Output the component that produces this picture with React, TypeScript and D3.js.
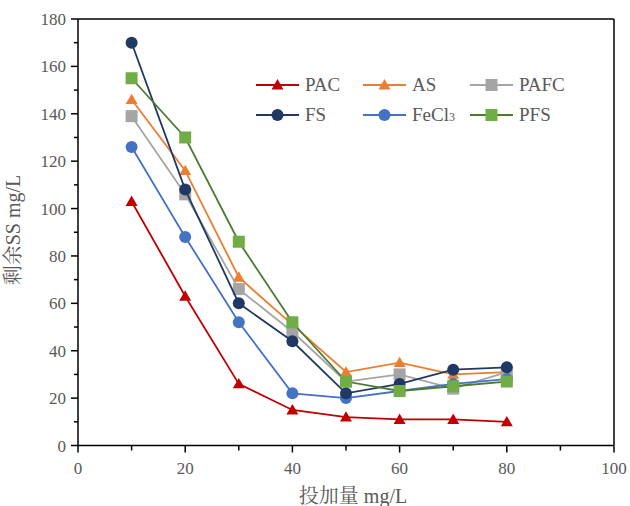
import React from "react";
import * as d3 from "d3";

const doses = [10, 20, 30, 40, 50, 60, 70, 80];
const pac = [103, 63, 26, 15, 12, 11, 11, 10];
const as = [146, 116, 71, 51, 31, 35, 30, 31];
const pafc = [139, 106, 66, 48, 27, 30, 24, 31];
const fs = [170, 108, 60, 44, 22, 26, 32, 33];
const fecl3 = [126, 88, 52, 22, 20, 23, 26, 28];
const pfs = [155, 130, 86, 52, 27, 23, 25, 27];

const xTicks = [0, 20, 40, 60, 80, 100];
const yTicks = [0, 20, 40, 60, 80, 100, 120, 140, 160, 180];

type Series = { name: string; values: number[]; line: string; fill: string; shape: "tri" | "sq" | "circ" };

const series: Series[] = [
  { name: "PAC", values: pac, line: "#C00000", fill: "#C00000", shape: "tri" },
  { name: "AS", values: as, line: "#ED7D31", fill: "#ED7D31", shape: "tri" },
  { name: "PAFC", values: pafc, line: "#A5A5A5", fill: "#A5A5A5", shape: "sq" },
  { name: "FeCl3", values: fecl3, line: "#4472C4", fill: "#4472C4", shape: "circ" },
  { name: "FS", values: fs, line: "#203864", fill: "#203864", shape: "circ" },
  { name: "PFS", values: pfs, line: "#4E7A2F", fill: "#70AD47", shape: "sq" },
];

const legendOrder = ["PAC", "AS", "PAFC", "FS", "FeCl3", "PFS"];

const left = 78, right = 614, top = 19, bottom = 445.5;
const FONT = "'Liberation Serif', 'Times New Roman', 'Noto Serif CJK SC', 'Noto Sans CJK SC', serif";
const TXT = "#595959";

function Marker({ s, x, y }: { s: Series; x: number; y: number }) {
  if (s.shape === "tri") {
    const p = d3.symbol(d3.symbolTriangle, 62)();
    return <path d={p || ""} transform={`translate(${x},${y + 1})`} fill={s.fill} />;
  }
  if (s.shape === "sq") {
    return <rect x={x - 6} y={y - 6} width={12} height={12} fill={s.fill} />;
  }
  return <circle cx={x} cy={y} r={6} fill={s.fill} />;
}

export default function App() {
  const x = d3.scaleLinear().domain([0, 100]).range([left, right]);
  const y = d3.scaleLinear().domain([0, 180]).range([bottom, top]);
  const line = d3
    .line<number>()
    .x((_, i) => x(doses[i]))
    .y((v) => y(v));

  const xMinor = d3.range(10, 100, 20);
  const yMinor = d3.range(10, 180, 20);

  const legendCols = [256, 363, 470];
  const legendRows = [85, 115];

  return (
    <svg width={630} height={506} style={{ position: "absolute", left: 0, top: 0 }} fontFamily={FONT}>
      <rect width={630} height={506} fill="#fff" />
      {/* frame */}
      <line x1={left} x2={right} y1={top} y2={top} stroke="#000" strokeWidth={1.5} />
      <line x1={right} x2={right} y1={top} y2={bottom} stroke="#000" strokeWidth={1.5} />
      <line x1={left} x2={right} y1={bottom} y2={bottom} stroke="#000" strokeWidth={1.5} />
      <line x1={left} x2={left} y1={top} y2={bottom} stroke="#000" strokeWidth={1.5} />
      {/* x ticks */}
      {xTicks.map((t) => (
        <g key={"xt" + t}>
          <line x1={x(t)} x2={x(t)} y1={bottom} y2={bottom + 7} stroke="#000" strokeWidth={1.5} />
          <text x={x(t)} y={bottom + 28} textAnchor="middle" fontSize={17} fill={TXT}>{t}</text>
        </g>
      ))}
      {xMinor.map((t) => (
        <line key={"xm" + t} x1={x(t)} x2={x(t)} y1={bottom} y2={bottom + 5} stroke="#000" strokeWidth={1.5} />
      ))}
      {/* y ticks */}
      {yTicks.map((t) => (
        <g key={"yt" + t}>
          <line x1={left - 7} x2={left} y1={y(t)} y2={y(t)} stroke="#000" strokeWidth={1.5} />
          <text x={left - 12} y={y(t) + 6} textAnchor="end" fontSize={17} fill={TXT}>{t}</text>
        </g>
      ))}
      {yMinor.map((t) => (
        <line key={"ym" + t} x1={left - 4} x2={left} y1={y(t)} y2={y(t)} stroke="#000" strokeWidth={1.5} />
      ))}
      {/* axis titles */}
      <text x={353} y={503} textAnchor="middle" fontSize={20} fill={TXT}>投加量 mg/L</text>
      <text transform="translate(20,230) rotate(-90)" textAnchor="middle" fontSize={20} fill={TXT}>剩余SS mg/L</text>
      {/* series */}
      {series.map((s) => (
        <g key={s.name}>
          <path d={line(s.values) || ""} fill="none" stroke={s.line} strokeWidth={1.8} />
          {s.values.map((v, i) => (
            <Marker key={i} s={s} x={x(doses[i])} y={y(v)} />
          ))}
        </g>
      ))}
      {/* legend */}
      {legendOrder.map((name, k) => {
        const s = series.find((d) => d.name === name)!;
        const cx = legendCols[k % 3];
        const cy = legendRows[Math.floor(k / 3)];
        return (
          <g key={"lg" + name}>
            <line x1={cx} x2={cx + 43} y1={cy} y2={cy} stroke={s.line} strokeWidth={1.8} />
            <Marker s={s} x={cx + 21.5} y={cy} />
            <text x={cx + 49} y={cy + 6} fontSize={19} fill={TXT}>
              {name === "FeCl3" ? (
                <>
                  FeCl<tspan fontSize={12}>3</tspan>
                </>
              ) : (
                name
              )}
            </text>
          </g>
        );
      })}
    </svg>
  );
}
